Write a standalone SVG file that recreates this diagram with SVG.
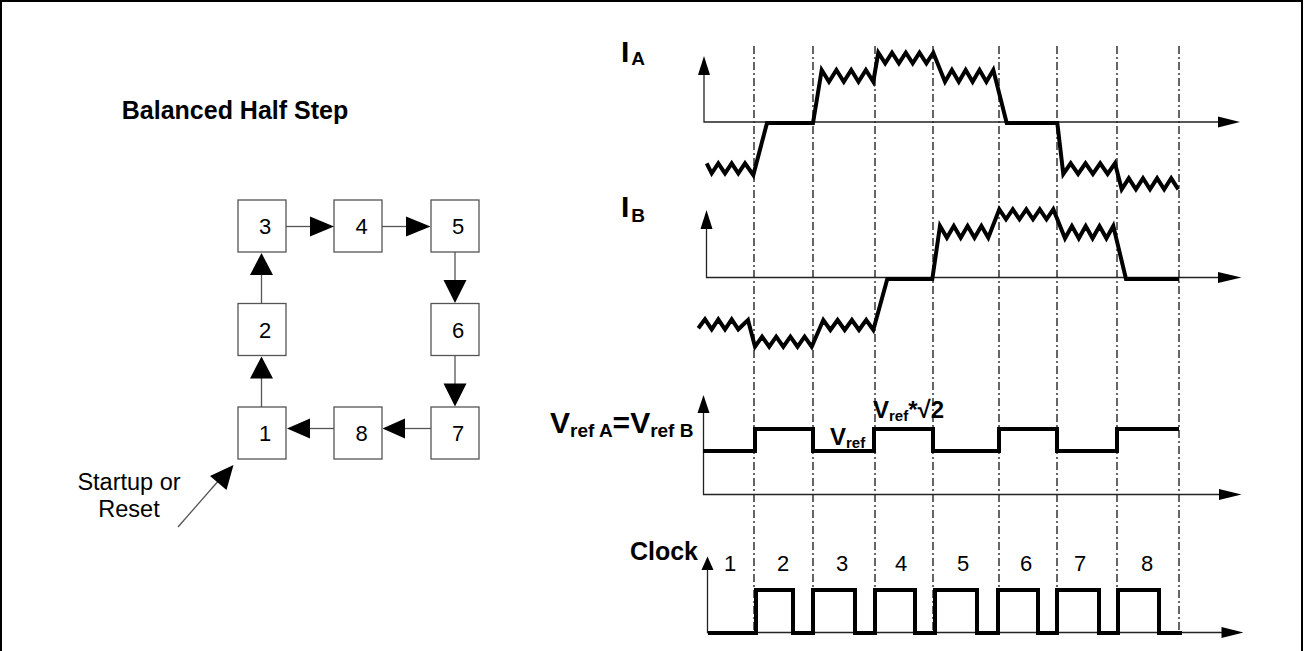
<svg xmlns="http://www.w3.org/2000/svg" width="1304" height="651" viewBox="0 0 1304 651">
<style>
text{font-family:"Liberation Sans",Arial,sans-serif;fill:#000}
.b{font-weight:bold}
.box{fill:#fff;stroke:#555;stroke-width:1.3}
.num{font-size:22px;text-anchor:middle}
.conn{stroke:#555;stroke-width:1.3;fill:none}
.head{fill:#000}
.axis{stroke:#222;stroke-width:1.3;fill:none}
.grid{stroke:#333;stroke-width:1.5;stroke-dasharray:8 3 2 3;fill:none}
.wave{stroke:#000;stroke-width:4;fill:none;stroke-linejoin:miter}
</style>
<rect x="1" y="1" width="1301" height="700" fill="#fff" stroke="#000" stroke-width="2"/>

<text x="235" y="119" class="b" font-size="25" text-anchor="middle">Balanced Half Step</text>

<g id="node-3"><rect class="box" x="238" y="200" width="48" height="52"/><text class="num" x="265" y="234">3</text></g>
<g id="node-4"><rect class="box" x="334" y="200" width="48" height="52"/><text class="num" x="361.5" y="234">4</text></g>
<g id="node-5"><rect class="box" x="431" y="200" width="48" height="52"/><text class="num" x="458" y="234">5</text></g>
<g id="node-2"><rect class="box" x="238" y="303.5" width="48" height="52"/><text class="num" x="265" y="337.5">2</text></g>
<g id="node-6"><rect class="box" x="431" y="303.5" width="48" height="52"/><text class="num" x="458" y="337.5">6</text></g>
<g id="node-1"><rect class="box" x="238" y="407" width="48" height="52"/><text class="num" x="265" y="441">1</text></g>
<g id="node-8"><rect class="box" x="334" y="407" width="48" height="52"/><text class="num" x="361.5" y="441">8</text></g>
<g id="node-7"><rect class="box" x="431" y="407" width="48" height="52"/><text class="num" x="458" y="441">7</text></g>
<g id="startup-label">
<text x="129" y="490" font-size="23.5" text-anchor="middle">Startup or</text>
<text x="129" y="517" font-size="23.5" text-anchor="middle">Reset</text>
</g>

<g id="connectors">
<path class="conn" d="M286,226.5 H312"/><polygon class="head" points="310,216.5 334,226.5 310,236.5"/>
<path class="conn" d="M382,226.5 H408"/><polygon class="head" points="406,216.5 430.5,226.5 406,236.5"/>
<path class="conn" d="M455,252 V282"/><polygon class="head" points="443.5,280 466.5,280 455,303"/>
<path class="conn" d="M455,355.5 V385"/><polygon class="head" points="443.5,383.5 466.5,383.5 455,406.5"/>
<path class="conn" d="M431,428.5 H403"/><polygon class="head" points="405,418.5 382.5,428.5 405,438.5"/>
<path class="conn" d="M334,428.5 H308"/><polygon class="head" points="310,418.5 287,428.5 310,438.5"/>
<path class="conn" d="M261.5,407 V376"/><polygon class="head" points="250,378.5 273,378.5 261.5,356.5"/>
<path class="conn" d="M261.5,303.5 V273"/><polygon class="head" points="250,275 273,275 261.5,253"/>
<path class="conn" d="M178,527 L220,479" stroke="#000"/><polygon class="head" points="210,476 233.5,465 226.5,490"/>
</g>

<g id="grid">
<path class="grid" d="M754,46 V632 M813,46 V632 M875,46 V632 M933,46 V632 M999,46 V632 M1057,46 V632 M1117,46 V632 M1179,46 V632"/>
</g>

<g id="axes">
<path class="axis" d="M704,74 V122 H1220"/>
<polygon class="head" points="698,75 704,56 710,75"/>
<polygon class="head" points="1218,116.5 1240,122 1218,127.5"/>
<path class="axis" d="M706.5,228 V277.5 H1220"/>
<polygon class="head" points="700.5,229 706.5,210 712.5,229"/>
<polygon class="head" points="1218,272 1241.5,277.5 1218,283"/>
<path class="axis" d="M703.5,412 V494.5 H1221"/>
<polygon class="head" points="697.5,413 703.5,395 709.5,413"/>
<polygon class="head" points="1219,489 1241.5,494.5 1219,500"/>
<path class="axis" d="M707.5,569 V632.5 H1223"/>
<polygon class="head" points="701.5,570 707.5,556.5 713.5,570"/>
<polygon class="head" points="1221.5,627 1243.5,632.5 1221.5,638"/>
</g>

<g id="labels">
<text x="621" y="62" class="b" font-size="30">I<tspan font-size="19" dx="2" dy="3">A</tspan></text>
<text x="621" y="217" class="b" font-size="30">I<tspan font-size="19" dx="2" dy="5">B</tspan></text>
<text x="550" y="433" class="b" font-size="30">V<tspan font-size="19" dy="4">ref A</tspan><tspan dy="-4">=V</tspan><tspan font-size="19" dy="4">ref B</tspan></text>
<text x="830" y="445" class="b" font-size="24">V<tspan font-size="15" dy="3">ref</tspan></text>
<text x="873" y="417.5" class="b" font-size="24">V<tspan font-size="15" dy="3">ref</tspan><tspan dy="-3">*√2</tspan></text>
<text x="698" y="560" class="b" font-size="25" text-anchor="end">Clock</text>
<text class="num" x="730" y="571">1</text>
<text class="num" x="783" y="571">2</text>
<text class="num" x="842" y="571">3</text>
<text class="num" x="901" y="571">4</text>
<text class="num" x="963" y="571">5</text>
<text class="num" x="1026" y="571">6</text>
<text class="num" x="1080" y="571">7</text>
<text class="num" x="1147" y="571">8</text>
</g>

<g id="waveforms">
<path id="wave-ia" class="wave" d="M706.7,163.3 L711.7,173.3 718.3,163.3 725,173.3 731.7,163.3 738.3,173.3 745,163.3 753.3,175 L767,123 L813,123 L821.7,70 829,81.7 836.4,70 843.8,81.7 851.2,70 858.5,81.7 865.9,70 873.3,81.7 L878.3,52.7 885.2,63.3 892,52.7 898.9,63.3 905.8,52.7 912.7,63.3 919.5,52.7 926.4,63.3 933.3,52.7 L945,81.7 951.9,70 958.8,81.7 965.7,70 972.6,81.7 979.5,70 986.4,81.7 993.3,70 L1006.7,123 L1057.3,123 L1063.3,174 1070.7,163.3 1078.1,174 1085.5,163.3 1092.9,174 1100.2,163.3 1107.6,174 1115,163.3 L1121.7,189.3 1128.8,178.3 1135.9,189.3 1143,178.3 1150,189.3 1157.1,178.3 1164.2,189.3 1171.2,178.3 1178.3,189.3"/>
<path id="wave-ib" class="wave" d="M698.3,328.3 L705,319.3 711.7,329.3 718.3,319.3 725,329.3 731.7,319.3 738.3,329.3 748,320 L755,346.7 762.1,336.7 769.2,346.7 776.2,336.7 783.3,346.7 790.4,336.7 797.5,346.7 804.6,336.7 811.7,346.7 L823.3,320 830.4,330 837.6,320 844.7,330 851.9,320 859,330 866.2,320 873.3,330 L887.3,279 L932.3,279 L940,226 946.9,237.7 953.8,226 960.7,237.7 967.6,226 974.5,237.7 981.4,226 988.3,237.7 L999.3,209.3 1006,219.3 1012.8,209.3 1019.5,219.3 1026.3,209.3 1033,219.3 1039.8,209.3 1046.5,219.3 1053.3,209.3 L1065,238.3 1071.9,226 1078.8,238.3 1085.7,226 1092.6,238.3 1099.5,226 1106.4,238.3 1113.3,226 L1126,279 L1179.3,279"/>
<path id="wave-vref" class="wave" d="M703,451 H755 V429 H813 V451 H874 V429 H933 V451 H999 V429 H1057 V451 H1117 V429 H1179"/>
<path id="wave-clock" class="wave" d="M708,633 H756 V590 H793 V633 H813 V590 H855 V633 H875 V590 H915 V633 H935 V590 H977 V633 H998 V590 H1038 V633 H1057 V590 H1099 V633 H1118 V590 H1159 V633 H1182"/>
</g>
</svg>
